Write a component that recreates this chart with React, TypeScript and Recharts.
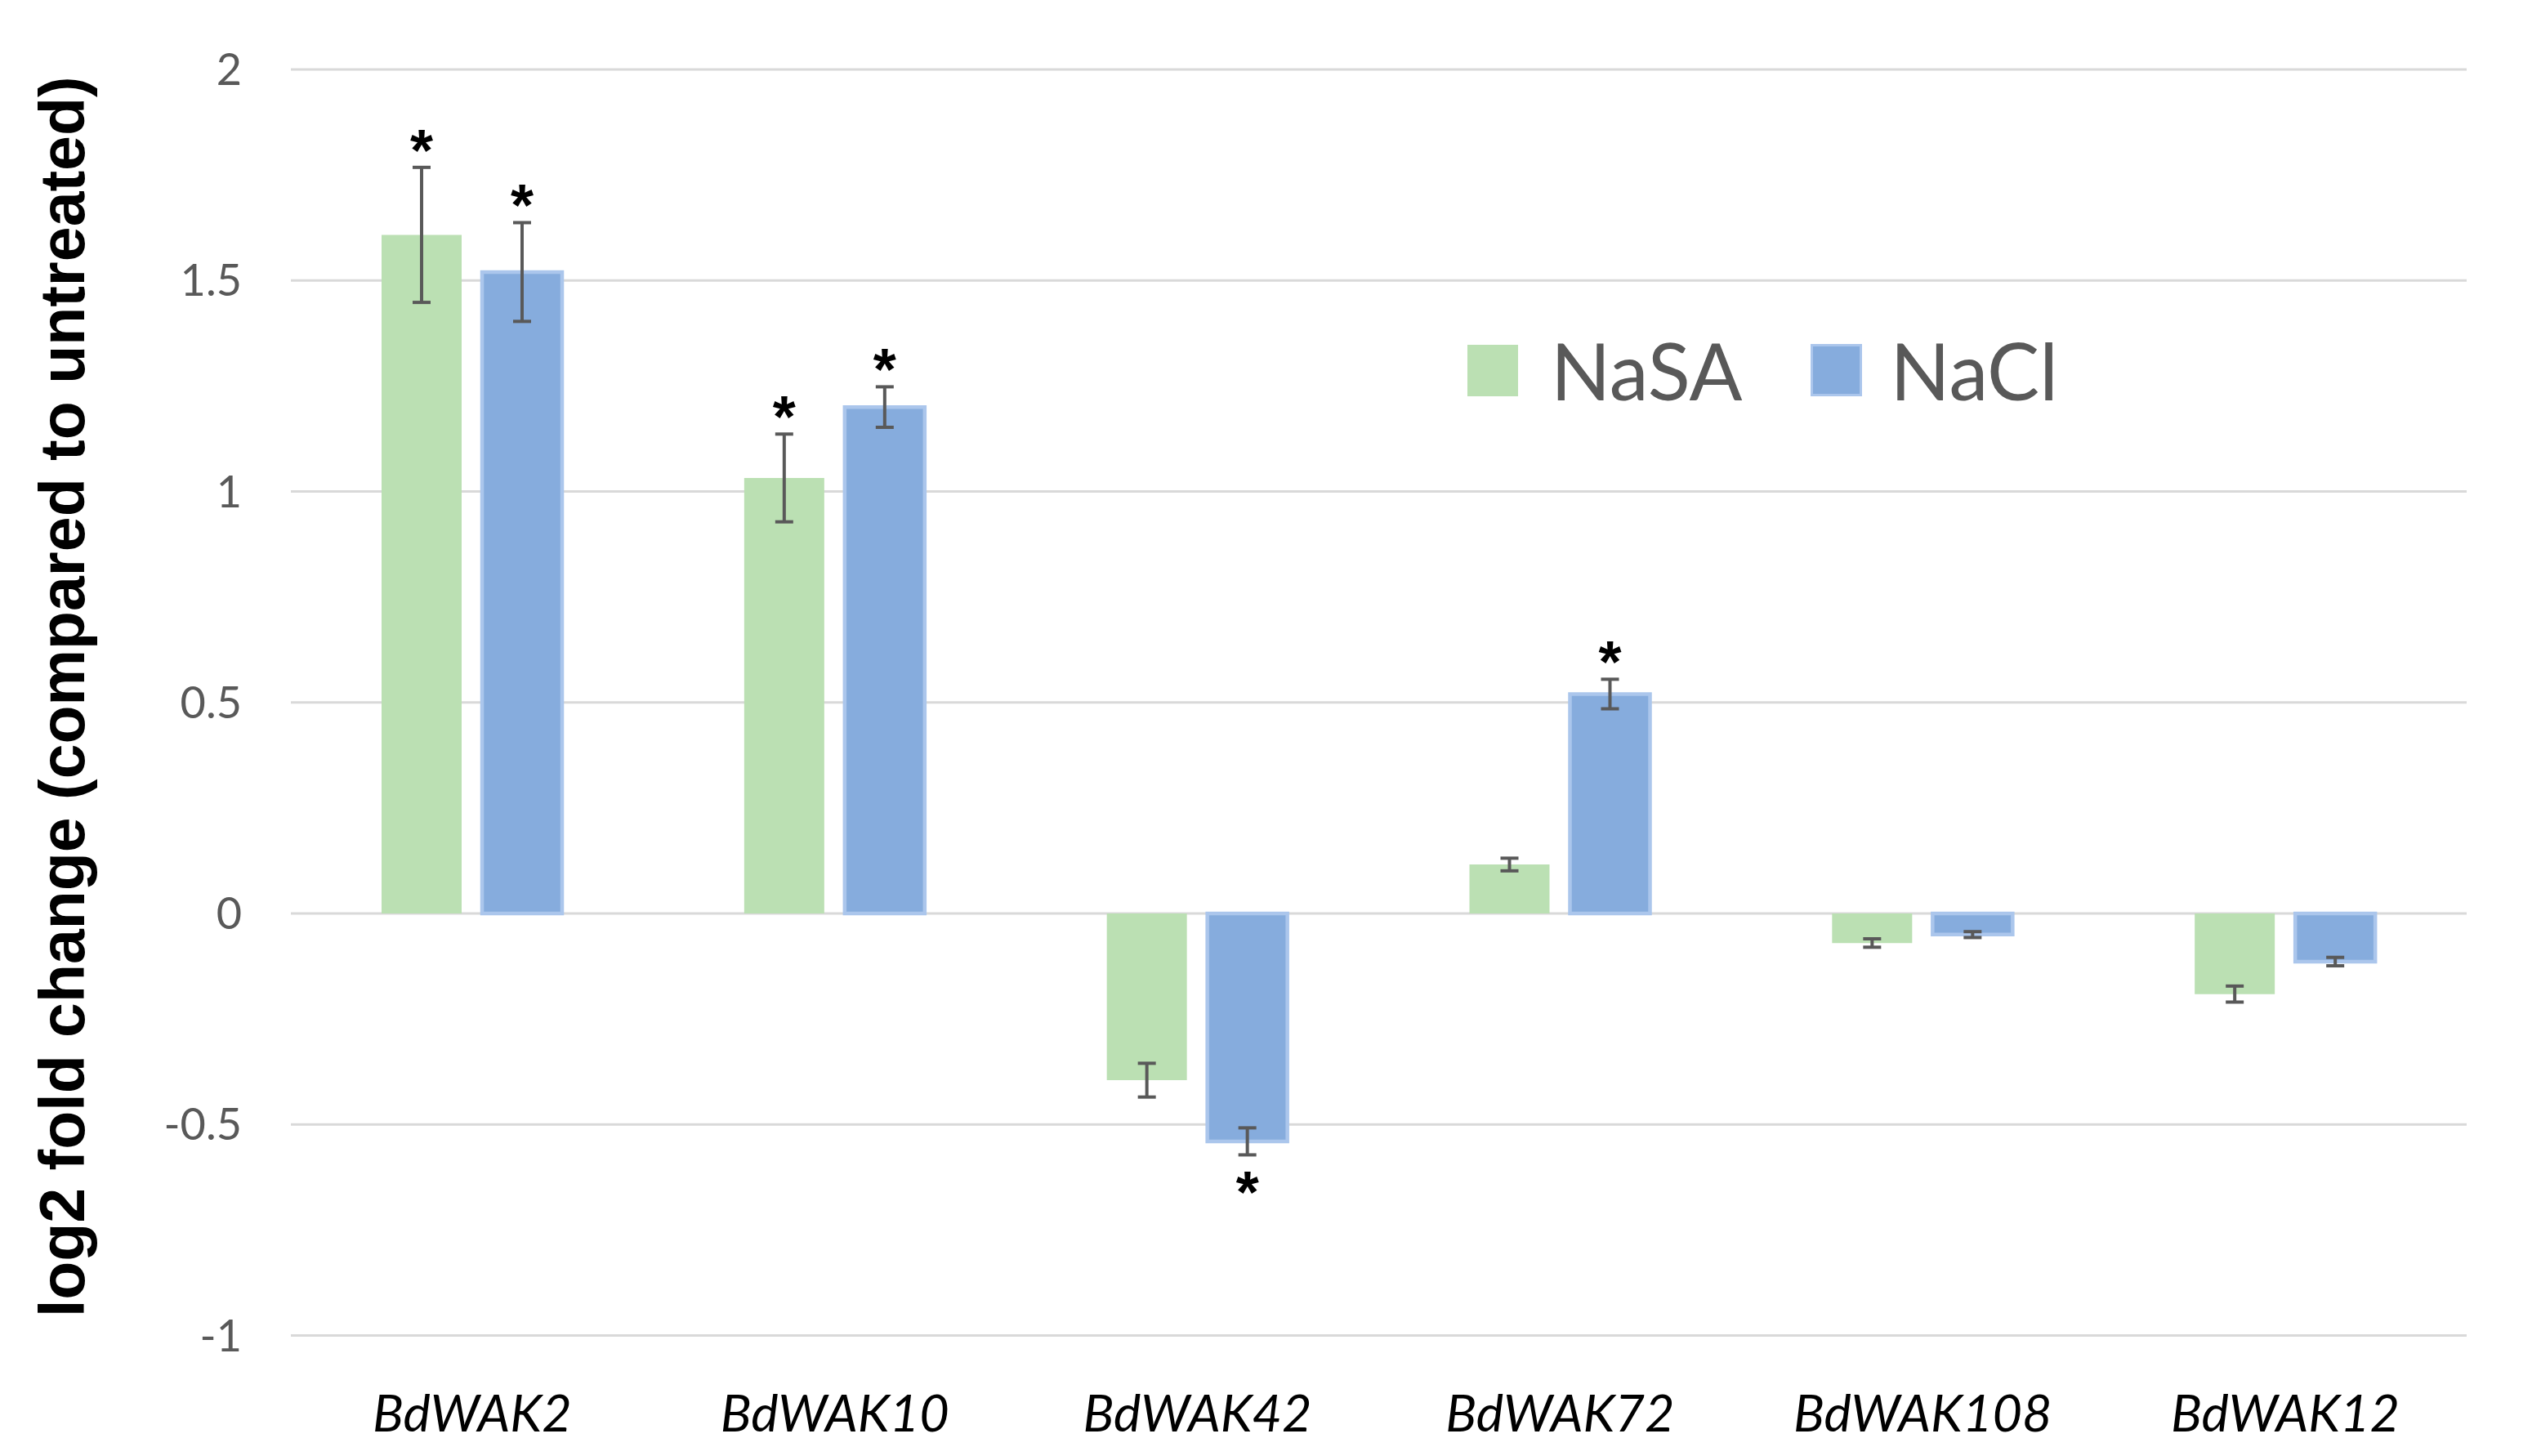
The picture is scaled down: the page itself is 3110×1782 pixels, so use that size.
import React from "react";
import {
  BarChart,
  Bar,
  XAxis,
  YAxis,
  CartesianGrid,
  ErrorBar,
  LabelList,
  Legend,
} from "recharts";

const genes = ["BdWAK2", "BdWAK10", "BdWAK42", "BdWAK72", "BdWAK108", "BdWAK12"];
const nasa = [1.608, 1.032, -0.395, 0.116, -0.07, -0.191];
const nasaErr = [0.16, 0.104, 0.04, 0.015, 0.01, 0.019];
const nasaSig = [true, true, false, false, false, false];
const nacl = [1.52, 1.2, -0.54, 0.52, -0.05, -0.114];
const naclErr = [0.117, 0.048, 0.032, 0.035, 0.007, 0.01];
const naclSig = [true, true, true, true, false, false];
const yTicks = [-1, -0.5, 0, 0.5, 1, 1.5, 2];

const GREEN = "#bbe0b3";
const BLUE = "#86acdd";
const BLUE_EDGE = "#abc6ec";

const data = genes.map((gene, i) => ({
  gene,
  NaSA: nasa[i],
  NaSAErr: nasaErr[i],
  NaSASig: nasaSig[i] ? 1 : 0,
  NaCl: nacl[i],
  NaClErr: naclErr[i],
  NaClSig: naclSig[i] ? 1 : 0,
}));

// asterisk drawn just past the end of the error bar
const makeStar = (values: number[], errs: number[], sig: boolean[]) => (props: any) => {
  const { x, y, width, height, index } = props;
  if (!sig[index]) return null;
  const v = values[index];
  const e = errs[index];
  const top = Math.min(y, y + height);
  const bottom = Math.max(y, y + height);
  const ppu = (bottom - top) / Math.abs(v);
  const cx = x + width / 2;
  const cy = v >= 0 ? top - e * ppu - 38 : bottom + e * ppu + 29;
  const fs = 72;
  return (
    <text
      x={cx}
      y={cy + fs * 0.58}
      textAnchor="middle"
      fontFamily="Liberation Sans, Arial, sans-serif"
      fontWeight="bold"
      fontSize={fs}
      fill="#000"
    >
      *
    </text>
  );
};

const YTitle = (props: any) => {
  const vb = props.viewBox || {};
  const cx = 103;
  const cy = (vb.y ?? 85) + (vb.height ?? 1549) / 2 - 7;
  return (
    <text
      x={cx}
      y={cy}
      transform={`rotate(-90 ${cx} ${cy})`}
      textAnchor="middle"
      fontFamily="Liberation Sans, Arial, sans-serif"
      fontWeight="bold"
      fontSize={77}
      fill="#000"
    >
      log2 fold change (compared to untreated)
    </text>
  );
};

const LegendBox = () => (
  <div
    style={{
      display: "flex",
      alignItems: "center",
      fontFamily: "Lato, sans-serif",
      fontSize: 96,
      lineHeight: 1,
      color: "#595959",
    }}
  >
    <span style={{ width: 62, height: 63, background: GREEN, marginRight: 40 }} />
    <span style={{ marginRight: 83 }}>NaSA</span>
    <span
      style={{
        width: 57,
        height: 58,
        background: BLUE,
        border: `3px solid ${BLUE_EDGE}`,
        marginRight: 35,
      }}
    />
    <span>NaCl</span>
  </div>
);

export default function App() {
  return (
    <div style={{ position: "absolute", left: 0, top: 0, background: "#fff" }}>
      <BarChart
        width={3110}
        height={1782}
        data={data}
        margin={{ top: 85, right: 91, bottom: 27.5, left: 156 }}
        barSize={98}
        barGap={25}
      >
        <CartesianGrid vertical={false} stroke="#d9d9d9" strokeWidth={3} />
        <XAxis
          dataKey="gene"
          height={120}
          axisLine={false}
          tickLine={false}
          tickSize={0}
          tickMargin={73}
          interval={0}
          tick={{
            fill: "#000",
            fontSize: 63,
            fontStyle: "italic",
            fontFamily: "Lato, sans-serif",
          }}
        />
        <YAxis
          type="number"
          domain={[-1, 2]}
          ticks={yTicks}
          width={200}
          axisLine={false}
          tickLine={false}
          tickSize={0}
          tickMargin={60}
          tick={{ fill: "#595959", fontSize: 54, fontFamily: "Lato, sans-serif" }}
          label={<YTitle />}
        />
        <Legend
          content={<LegendBox />}
          layout="horizontal"
          verticalAlign="middle"
          align="center"
          wrapperStyle={{ left: 1796, top: 405, width: "auto", height: "auto" }}
        />
        <Bar dataKey="NaSA" fill={GREEN} isAnimationActive={false}>
          <ErrorBar dataKey="NaSAErr" width={11} strokeWidth={4} stroke="#595959" />
          <LabelList dataKey="NaSASig" content={makeStar(nasa, nasaErr, nasaSig)} />
        </Bar>
        <Bar
          dataKey="NaCl"
          fill={BLUE}
          stroke={BLUE_EDGE}
          strokeWidth={4.5}
          isAnimationActive={false}
        >
          <ErrorBar dataKey="NaClErr" width={11} strokeWidth={4} stroke="#595959" />
          <LabelList dataKey="NaClSig" content={makeStar(nacl, naclErr, naclSig)} />
        </Bar>
      </BarChart>
    </div>
  );
}
